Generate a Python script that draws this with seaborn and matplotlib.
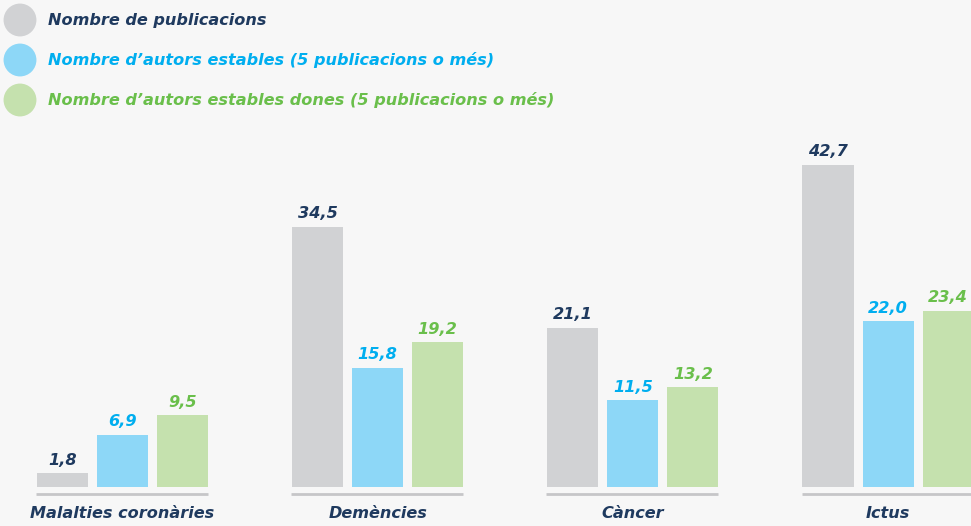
import matplotlib
matplotlib.use("Agg")
import matplotlib.pyplot as plt
import seaborn as sns
import pandas as pd

categories = ["Malalties coronàries", "Demències", "Càncer", "Ictus"]
series_names = [
    "Nombre de publicacions",
    "Nombre d\u2019autors estables (5 publicacions o més)",
    "Nombre d\u2019autors estables dones (5 publicacions o més)",
]
publicacions = [1.8, 34.5, 21.1, 42.7]
autors_estables = [6.9, 15.8, 11.5, 22.0]
autors_dones = [9.5, 19.2, 13.2, 23.4]

bar_colors = ["#d1d2d4", "#8dd7f7", "#c5e1ae"]
text_colors = ["#1f3a5f", "#00aeef", "#6abf4b"]
BG = "#f7f7f7"
FONT = ["DejaVu Sans"]
FS = 11.6

rows = []
for name, vals in zip(series_names, [publicacions, autors_estables, autors_dones]):
    for c, v in zip(categories, vals):
        rows.append({"categoria": c, "serie": name, "valor": v})
df = pd.DataFrame(rows)

sns.set_theme(style="white")
plt.rcParams["font.family"] = FONT

W, H = 971, 526
fig = plt.figure(figsize=(W / 100, H / 100), dpi=100, facecolor=BG)
bar_bottom_px = 487
ax = fig.add_axes([0, (H - bar_bottom_px) / H, 1, bar_bottom_px / H])
ax.set_facecolor(BG)

sns.barplot(data=df, x="categoria", y="valor", hue="serie", order=categories,
            hue_order=series_names, palette=bar_colors, width=0.706, gap=0.15,
            saturation=1, legend=False, linewidth=0, ax=ax)

ax.set_xlim(-0.48, 3.325)
ax.set_ylim(0, bar_bottom_px / 7.54)
for s in ax.spines.values():
    s.set_visible(False)
ax.set_yticks([])
ax.set_ylabel("")
ax.set_xlabel("")
ax.tick_params(axis="x", length=0, pad=14)
ax.set_xticks(range(len(categories)))
ax.set_xticklabels(categories, fontsize=FS, fontweight="bold", style="italic",
                   color=text_colors[0])

for cont, col in zip(ax.containers, text_colors):
    labels = [f"{b.get_height():.1f}".replace(".", ",") for b in cont]
    ax.bar_label(cont, labels=labels, padding=4, color=col, fontsize=FS,
                 fontweight="bold", style="italic")

# baseline segments under each group
for i in range(len(categories)):
    ax.plot([i - 0.339, i + 0.335], [-0.93, -0.93], color="#c6c6c8", lw=2.0,
            clip_on=False, solid_capstyle="butt")

# legend
lax = fig.add_axes([0, 0, 1, 1], facecolor="none")
lax.set_xlim(0, W)
lax.set_ylim(H, 0)
lax.axis("off")
for k, (name, bc, tc) in enumerate(zip(series_names, bar_colors, text_colors)):
    y = 20 + 40 * k
    lax.scatter([20], [y], s=560, color=bc, edgecolors="none")
    lax.text(48, y, name, color=tc, fontsize=FS, fontweight="bold",
             style="italic", va="center", ha="left")

fig.savefig("out.png", dpi=100, facecolor=BG)
